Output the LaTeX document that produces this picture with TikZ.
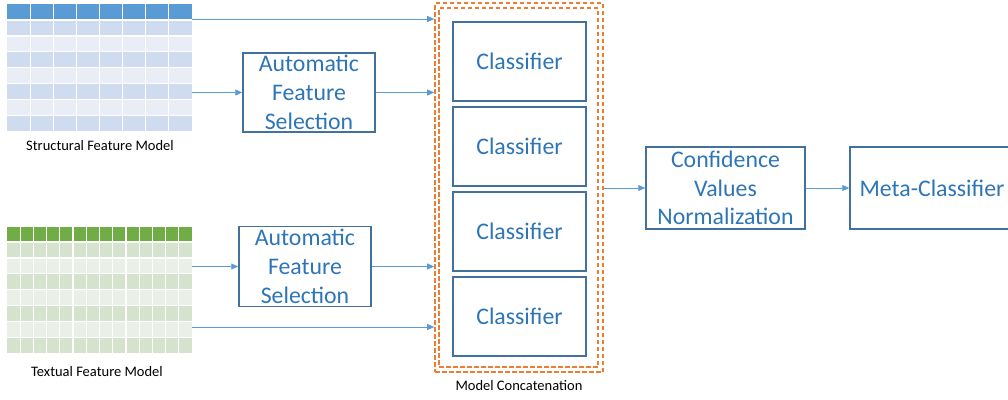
\documentclass[tikz,border=0pt]{standalone}
\usepackage{fontspec}
\setmainfont{Carlito}
\usetikzlibrary{arrows.meta}
\definecolor{boxblue}{HTML}{41719C}
\definecolor{txtblue}{HTML}{2E75B6}
\definecolor{arrblue}{HTML}{5B9BD5}
\definecolor{hdrblue}{HTML}{5B9BD5}
\definecolor{rowbA}{HTML}{CFDBEE}
\definecolor{rowbB}{HTML}{E8EDF6}
\definecolor{hdrgreen}{HTML}{70AD47}
\definecolor{rowgA}{HTML}{D4E2CE}
\definecolor{rowgB}{HTML}{EAF0E8}
\definecolor{dashorange}{HTML}{ED7D31}
\begin{document}
\begin{tikzpicture}[x=1pt,y=-1pt,
  procbox/.style={draw=boxblue, line width=1.5pt, text=txtblue,
    font=\fontsize{23.8}{28.8}\selectfont, align=center, inner sep=0pt},
  arr/.style={draw=arrblue, line width=0.9pt, -{Triangle[length=7pt,width=6pt]}},
  smalllabel/.style={font=\fontsize{14.5}{17}\selectfont, text=black, inner sep=0pt},
  concatbox/.style={draw=dashorange, line width=1.6pt, dash pattern=on 4.5pt off 2.5pt, inner sep=0pt}
]
\useasboundingbox (0,0) rectangle (1008,399);
\clip (0,0) rectangle (1008,399);
% structural table
\fill[hdrblue] (7,4) rectangle (192,20);
\foreach \r in {0,...,6}{
  \pgfmathsetmacro{\ya}{20+\r*15.9}
  \pgfmathsetmacro{\yb}{20+(\r+1)*15.9}
  \ifodd\r \fill[rowbB] (7,\ya) rectangle (192,\yb); \else \fill[rowbA] (7,\ya) rectangle (192,\yb); \fi
}
\foreach \c in {1,...,7}{
  \pgfmathsetmacro{\xx}{7+\c*23.125}
  \draw[white, line width=1.2pt] (\xx,4) -- (\xx,131.3);
}
\foreach \r in {0,...,6}{
  \pgfmathsetmacro{\ya}{20+\r*15.9}
  \draw[white, line width=1.2pt] (7,\ya) -- (192,\ya);
}
% textual table
\fill[hdrgreen] (7,227) rectangle (192,242);
\foreach \r in {0,...,6}{
  \pgfmathsetmacro{\ya}{242+\r*15.9}
  \pgfmathsetmacro{\yb}{242+(\r+1)*15.9}
  \ifodd\r \fill[rowgB] (7,\ya) rectangle (192,\yb); \else \fill[rowgA] (7,\ya) rectangle (192,\yb); \fi
}
\foreach \c in {1,...,13}{
  \pgfmathsetmacro{\xx}{7+\c*13.214}
  \draw[white, line width=1.2pt] (\xx,227) -- (\xx,353.3);
}
\foreach \r in {0,...,6}{
  \pgfmathsetmacro{\ya}{242+\r*15.9}
  \draw[white, line width=1.2pt] (7,\ya) -- (192,\ya);
}
\node[smalllabel] (slabel) at (100,146) {Structural Feature Model};
\node[smalllabel] (tlabel) at (97,372) {Textual Feature Model};
% concatenation boxes
\node[concatbox, minimum width=168pt, minimum height=369pt] (concat) at (519,187.5) {};
\node[concatbox, minimum width=159pt, minimum height=359pt] (concatin) at (518.5,187.5) {};
\node[smalllabel] (clabel) at (519,386) {Model Concatenation};
% process boxes
\node[procbox, minimum width=132pt, minimum height=79pt] (afs1) at (309,92.5) {Automatic\\Feature\\Selection};
\node[procbox, minimum width=132pt, minimum height=80pt] (afs2) at (305,266.5) {Automatic\\Feature\\Selection};
\foreach \i/\yy in {1/61.5,2/146.5,3/231.5,4/316.5}{
  \node[procbox, minimum width=133pt, minimum height=79pt] (cls\i) at (519.5,\yy) {Classifier};
}
\node[procbox, minimum width=159pt, minimum height=82pt] (conf) at (725.5,188) {Confidence\\Values\\Normalization};
\node[procbox, minimum width=164pt, minimum height=82pt] (meta) at (932,188) {Meta-Classifier};
% arrow start points
\coordinate (s1) at (192,19);
\coordinate (s2) at (192,92.5);
\coordinate (t1) at (192,266.5);
\coordinate (t2) at (192,327);
\draw[arr] (s1) -- (s1 -| concat.west);
\draw[arr] (s2) -- (afs1.west);
\draw[arr] (afs1.east) -- (afs1 -| concat.west);
\draw[arr] (t1) -- (afs2.west);
\draw[arr] (afs2.east) -- (afs2 -| concat.west);
\draw[arr] (t2) -- (t2 -| concat.west);
\draw[arr] (concat.east |- conf) -- (conf.west);
\draw[arr] (conf.east) -- (meta.west);
\end{tikzpicture}
\end{document}
